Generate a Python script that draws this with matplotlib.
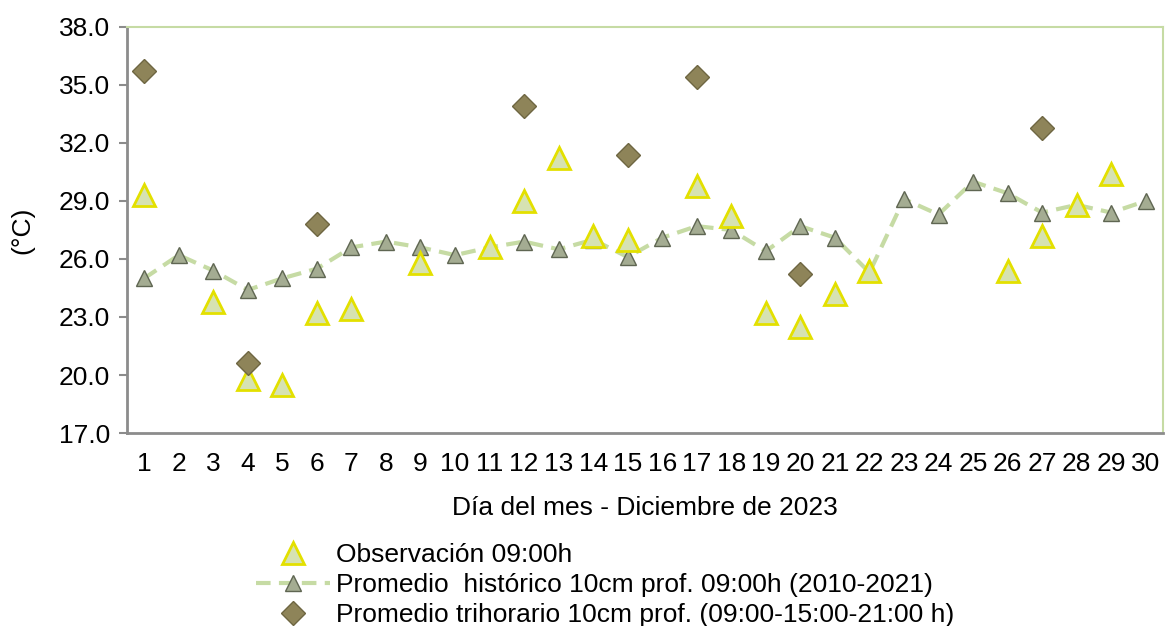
import matplotlib.pyplot as plt
import numpy as np

plt.rcParams['font.family'] = ['Liberation Sans', 'DejaVu Sans']

dias = list(range(1, 31))

# Observacion 09:00h (None = sin dato)
obs = [29.3, None, 23.8, 19.8, 19.5, 23.2, 23.4, None, 25.8, None,
       26.6, 29.0, 31.2, 27.2, 27.0, None, 29.8, 28.2, 23.2, 22.5,
       24.2, 25.4, None, None, None, 25.4, 27.2, 28.8, 30.4, None]

# Promedio historico 10cm prof. 09:00h (2010-2021)
hist = [25.0, 26.2, 25.4, 24.4, 25.0, 25.5, 26.6, 26.9, 26.6, 26.2,
        26.6, 26.9, 26.5, 27.0, 26.1, 27.1, 27.7, 27.5, 26.4, 27.7,
        27.1, 25.3, 29.1, 28.3, 30.0, 29.4, 28.4, 28.8, 28.4, 29.0]

# Promedio trihorario 10cm prof. (09:00-15:00-21:00 h)
trih = [35.7, None, None, 20.6, None, 27.8, None, None, None, None,
        None, 33.9, None, None, 31.4, None, 35.4, None, None, 25.2,
        None, None, None, None, None, None, 32.8, None, None, None]

yticks = [17.0, 20.0, 23.0, 26.0, 29.0, 32.0, 35.0, 38.0]

obs_a = np.array([np.nan if v is None else v for v in obs])
trih_a = np.array([np.nan if v is None else v for v in trih])

fig = plt.figure(figsize=(11.68, 6.26), dpi=100)
ax = fig.add_axes([0.1087, 0.3083, 0.8870, 0.6486])

ax.plot(dias, hist, linestyle=(0, (3.5, 2)), color='#c6dba4', linewidth=3,
        marker='^', markersize=12, markerfacecolor='#a4ac92',
        markeredgecolor='#5f6652', markeredgewidth=1.0,
        label='Promedio  histórico 10cm prof. 09:00h (2010-2021)', zorder=2)
ax.plot(dias, obs_a, linestyle='none', marker='^', markersize=16,
        markerfacecolor='#d6e2b2', markeredgecolor='#e3e000', markeredgewidth=2,
        label='Observación 09:00h', zorder=3)
ax.plot(dias, trih_a, linestyle='none', marker='D', markersize=12,
        markerfacecolor='#8e8459', markeredgecolor='#6e6642', markeredgewidth=1,
        label='Promedio trihorario 10cm prof. (09:00-15:00-21:00 h)', zorder=4)

ax.set_xlim(0.5, 30.5)
ax.set_ylim(17, 38)
ax.set_yticks(yticks)
ax.set_yticklabels([f'{v:.1f}' for v in yticks])
ax.set_xticks(dias)
ax.tick_params(axis='x', length=0, labelsize=19, pad=14)
ax.tick_params(axis='y', length=6, width=1.5, color='#8c8c8c', labelsize=19, pad=6)

for s in ['left', 'bottom']:
    ax.spines[s].set_color('#8c8c8c')
    ax.spines[s].set_linewidth(2)
for s in ['top', 'right']:
    ax.spines[s].set_color('#c6dba4')
    ax.spines[s].set_linewidth(1.5)

ax.set_ylabel('(°C)', fontsize=19, labelpad=18)
ax.set_xlabel('Día del mes - Diciembre de 2023', fontsize=19, labelpad=14)

# leyenda debajo del grafico
handles, labels = ax.get_legend_handles_labels()
order = [1, 0, 2]
fig.legend([handles[i] for i in order], [labels[i] for i in order],
           loc='upper left', bbox_to_anchor=(0.219, 0.133),
           frameon=False, fontsize=19, handlelength=2.8, handletextpad=0.25,
           labelspacing=0.24, borderaxespad=0, borderpad=0)

fig.savefig('out.png', dpi=100)
